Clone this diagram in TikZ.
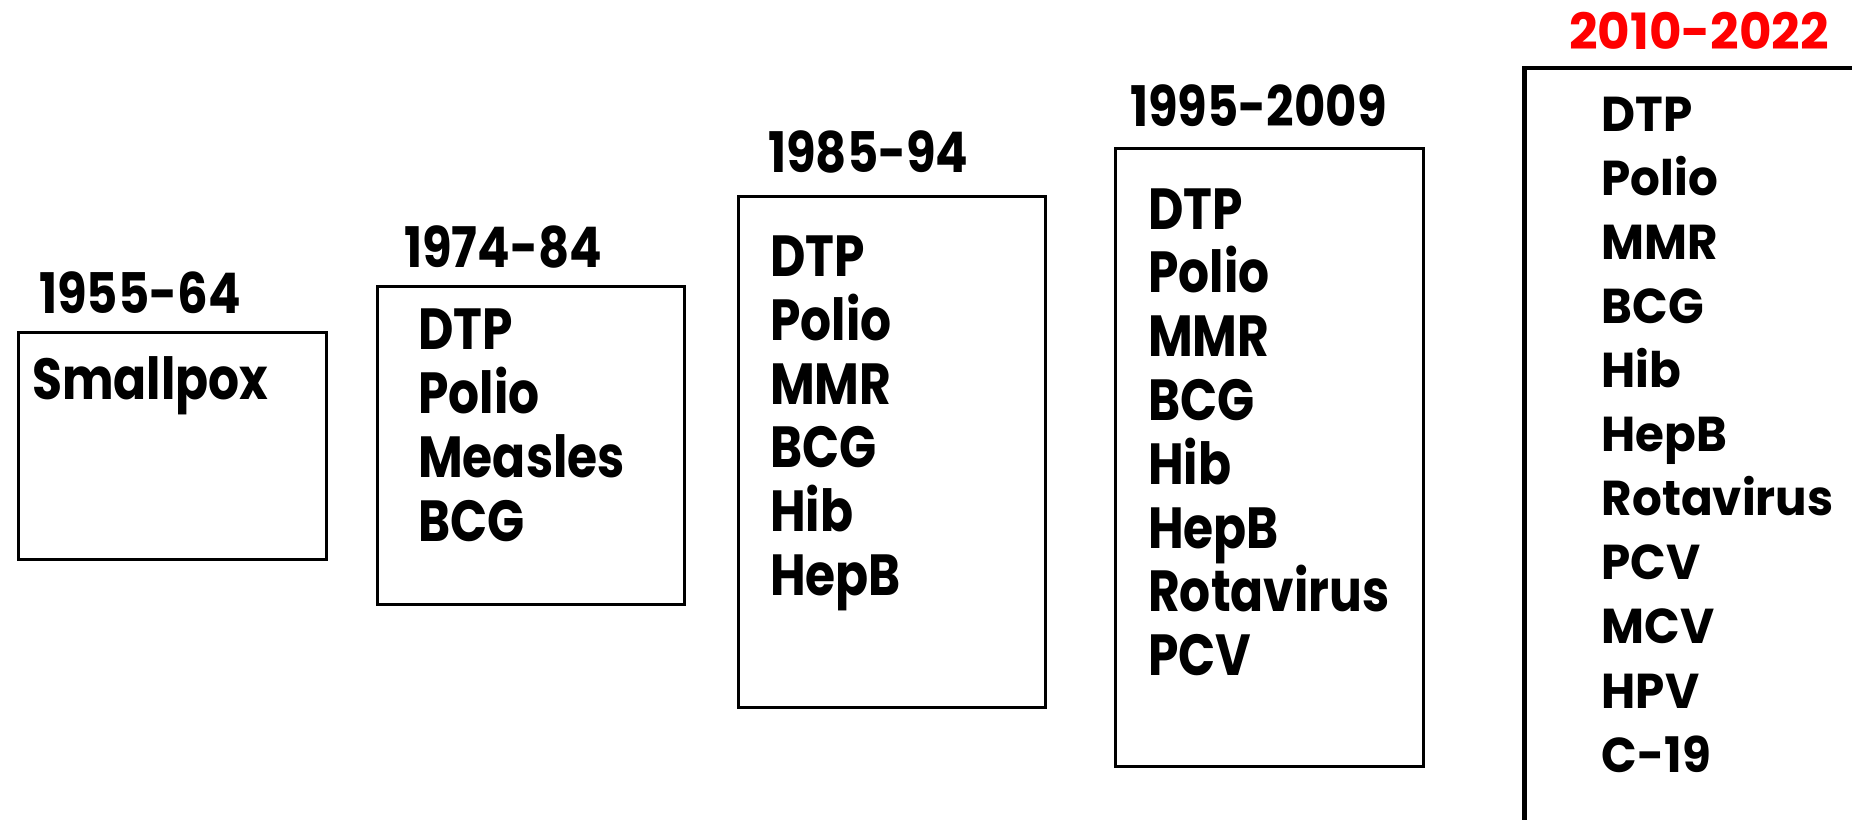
\documentclass[tikz,border=0pt]{standalone}
\usepackage{fontspec}
\setmainfont{Poppins}[BoldFont={Poppins Bold}]
\newfontfamily\listfont{Poppins}[BoldFont={Poppins Bold},FakeStretch=0.84]
\newfontfamily\yearfont{Poppins}[BoldFont={Poppins Bold},FakeStretch=0.86]
\newfontfamily\newlistfont{Poppins}[BoldFont={Poppins Bold},FakeStretch=0.955]
\definecolor{yearred}{RGB}{255,0,0}
\begin{document}
\begin{tikzpicture}[x=1pt,y=-1pt,
  period/.style={draw=black,line width=3.2pt,inner sep=0pt,anchor=north west},
  year/.style={anchor=base west,inner sep=0pt,font=\yearfont\bfseries\fontsize{56}{60}\selectfont},
  item/.style={anchor=base west,inner sep=0pt,font=\listfont\bfseries\fontsize{58}{60}\selectfont},
  newyear/.style={anchor=base west,inner sep=0pt,text=yearred,font=\bfseries\fontsize{50}{52}\selectfont},
  newitem/.style={anchor=base west,inner sep=0pt,font=\newlistfont\bfseries\fontsize{49}{50}\selectfont}]
\useasboundingbox (0,0) rectangle (1852,819);
\clip (0,0) rectangle (1852,819);
\fill[white] (0,0) rectangle (1852,819);

% 1955-64
\node[period,minimum width=308pt,minimum height=227pt] (p1) at (16.5,330.7) {};
\node[year] (y1) at (39,313) {1955-64};
\node[item] (p1-0) at (32,399) {Smallpox};

% 1974-84
\node[period,minimum width=307pt,minimum height=318pt] (p2) at (375.6,284.6) {};
\node[year] (y2) at (404,267) {1974-84};
\foreach \t [count=\i from 0] in {DTP,Polio,Measles,BCG}
  \node[item] (p2-\i) at (418,349.6+63.8*\i) {\t};

% 1985-94
\node[period,minimum width=307pt,minimum height=511pt] (p3) at (737,194.9) {};
\node[year] (y3) at (768,172) {1985-94};
\foreach \t [count=\i from 0] in {DTP,Polio,MMR,BCG,Hib,HepB}
  \node[item] (p3-\i) at (770,276.4+63.8*\i) {\t};

% 1995-2009
\node[period,minimum width=308pt,minimum height=618pt] (p4) at (1113.8,146.5) {};
\node[year] (y4) at (1130,126.4) {1995-2009};
\foreach \t [count=\i from 0] in {DTP,Polio,MMR,BCG,Hib,HepB,Rotavirus,PCV}
  \node[item] (p4-\i) at (1148,229.1+63.8*\i) {\t};

% 2010-2022
\node[period,line width=4.2pt,minimum width=400pt,minimum height=820pt] (p5) at (1522.4,66.1) {};
\node[newyear] (y5) at (1569,49.6) {2010-2022};
\foreach \t [count=\i from 0] in {DTP,Polio,MMR,BCG,Hib,HepB,Rotavirus,PCV,MCV,HPV,C-19}
  \node[newitem] (p5-\i) at (1601.5,131.1+64.1*\i) {\t};
\end{tikzpicture}
\end{document}
